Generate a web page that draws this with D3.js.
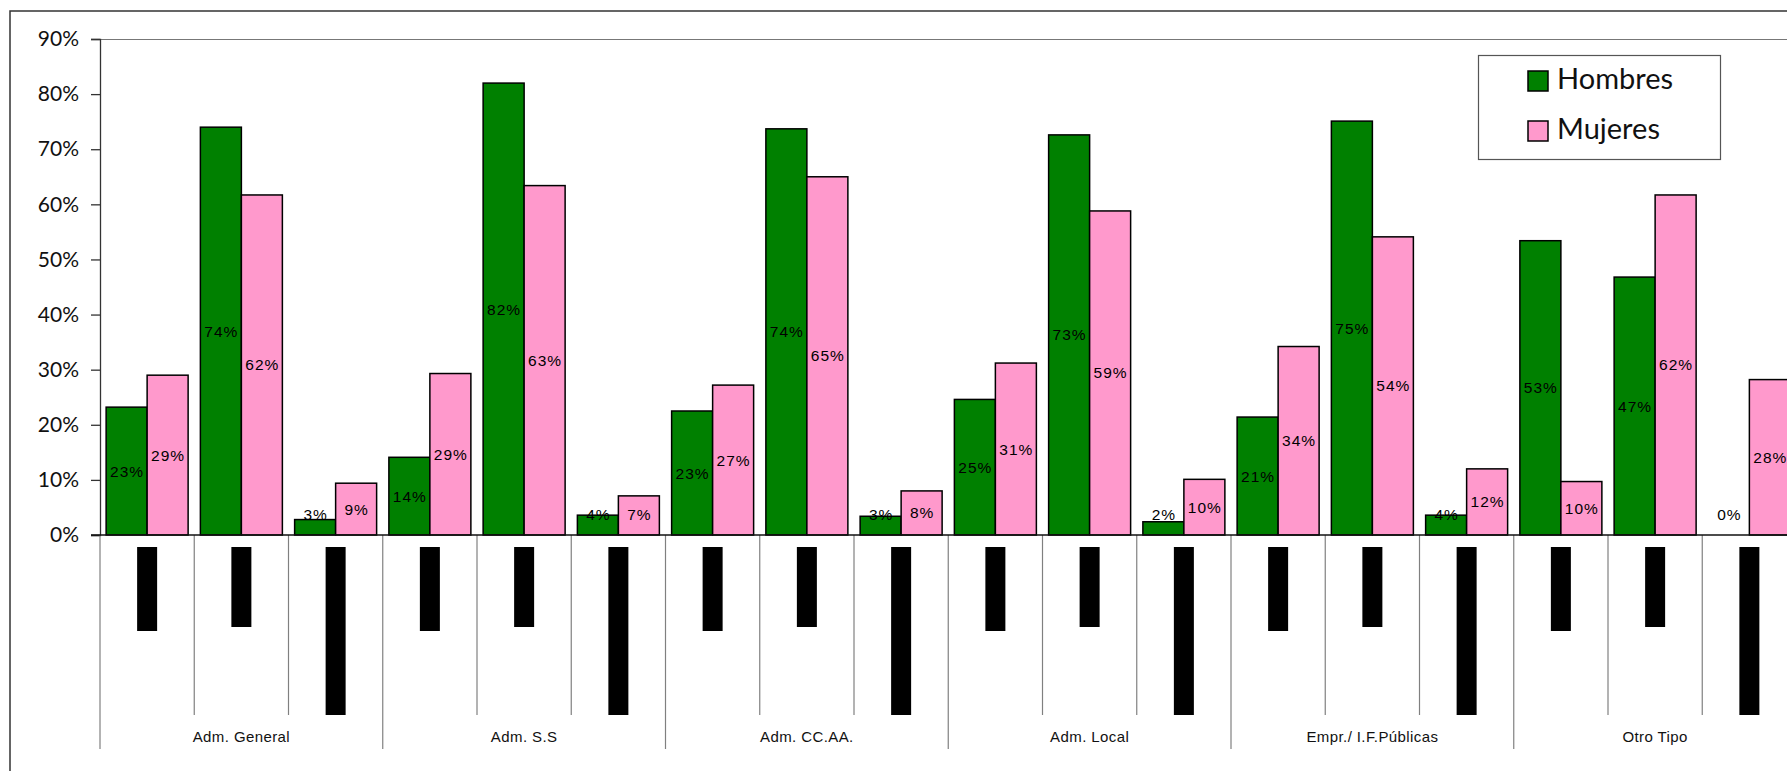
<!DOCTYPE html>
<html>
<head>
<meta charset="utf-8">
<script src="https://cdn.jsdelivr.net/npm/d3@7/dist/d3.min.js"></script>
<style>
  html, body { margin: 0; padding: 0; background: #fff; overflow: hidden; }
  svg { display: block; }
</style>
</head>
<body>
<script>
// ---------------- DATA ----------------
const categories = ["Adm. General", "Adm. S.S", "Adm. CC.AA.", "Adm. Local", "Empr./ I.F.Públicas", "Otro Tipo"];
const subPerCategory = 3;
const seriesNames = ["Hombres", "Mujeres"];
// values in %, one per sub-slot (6 categories x 3 sub-slots)
const hombres = [23.2, 74.0, 2.8, 14.1, 82.0, 3.6, 22.5, 73.7, 3.4, 24.6, 72.6, 2.4, 21.4, 75.1, 3.6, 53.4, 46.8, 0];
const mujeres = [29.0, 61.7, 9.4, 29.3, 63.4, 7.1, 27.2, 65.0, 8.0, 31.2, 58.8, 10.1, 34.2, 54.1, 12.0, 9.7, 61.7, 28.2];
const yTicks = [0, 10, 20, 30, 40, 50, 60, 70, 80, 90];

// ---------------- LAYOUT / STYLE ----------------
const W = 1787, H = 771;
const colors = { Hombres: "#008000", Mujeres: "#FF99CC" };
const plot = { left: 100, top: 39, bottom: 535, slot: 94.25 };
const blockLen = [84, 80, 168]; // length of the (unreadable) sub-category label blocks

const svg = d3.select("body").append("svg").attr("width", W).attr("height", H);

// outer frame
svg.append("rect").attr("x", 10).attr("y", 11).attr("width", W + 20).attr("height", H + 20)
  .attr("fill", "none").attr("stroke", "#333").attr("stroke-width", 1.5);

const nSlots = categories.length * subPerCategory;
const slotIdx = d3.range(nSlots);
const x0 = d3.scaleBand().domain(slotIdx).range([plot.left, plot.left + nSlots * plot.slot]).padding(0);
const x1 = d3.scaleBand().domain(seriesNames).range([0, x0.bandwidth()]).paddingInner(0).paddingOuter(0.1494);
const y = d3.scaleLinear().domain([0, 90]).range([plot.bottom, plot.top]);

// top border of plot area
svg.append("line").attr("x1", plot.left).attr("x2", W + 10).attr("y1", y(90) + 0.5).attr("y2", y(90) + 0.5)
  .attr("stroke", "#777").attr("stroke-width", 1.2);

// y axis
const yAxis = d3.axisLeft(y).tickValues(yTicks).tickFormat(d => d + "%").tickSize(9).tickPadding(12);
const gy = svg.append("g").attr("transform", `translate(${plot.left},0)`).call(yAxis);
gy.select(".domain").attr("stroke", "#333").attr("stroke-width", 1.3);
gy.selectAll(".tick line").attr("stroke", "#333").attr("stroke-width", 1.3);
gy.selectAll(".tick text").attr("font-family", "Lato, 'DejaVu Sans', sans-serif").attr("font-size", 21)
  .attr("fill", "#111");

// separators below zero line
const seps = svg.append("g");
d3.range(nSlots + 1).forEach(i => {
  const isGroup = i % subPerCategory === 0;
  const xx = i < nSlots ? x0(i) : x0(nSlots - 1) + x0.bandwidth();
  seps.append("line").attr("x1", xx).attr("x2", xx)
    .attr("y1", plot.bottom).attr("y2", isGroup ? 749 : 715)
    .attr("stroke", "#808080").attr("stroke-width", 1.2);
});

// sub-category label blocks (rendered as black boxes in the reference)
svg.append("g").selectAll("rect").data(slotIdx).join("rect")
  .attr("x", d => x0(d) + x0.bandwidth() / 2 - 10)
  .attr("y", 547)
  .attr("width", 20)
  .attr("height", d => blockLen[d % subPerCategory])
  .attr("fill", "#000");

// category labels
svg.append("g").selectAll("text").data(categories).join("text")
  .attr("x", (d, i) => x0(i * subPerCategory) + x0.bandwidth() * subPerCategory / 2)
  .attr("y", 742)
  .attr("text-anchor", "middle")
  .attr("font-family", "'Liberation Sans', Arial, sans-serif")
  .attr("font-size", 15).attr("letter-spacing", 0.4)
  .attr("fill", "#111")
  .text(d => d);

// bars
const rows = [];
slotIdx.forEach(i => {
  rows.push({ slot: i, s: "Hombres", v: hombres[i] });
  rows.push({ slot: i, s: "Mujeres", v: mujeres[i] });
});
const bars = svg.append("g");
bars.selectAll("rect").data(rows.filter(d => d.v > 0)).join("rect")
  .attr("x", d => x0(d.slot) + x1(d.s))
  .attr("y", d => y(d.v))
  .attr("width", x1.bandwidth())
  .attr("height", d => y(0) - y(d.v))
  .attr("fill", d => colors[d.s])
  .attr("stroke", "#000").attr("stroke-width", 1.5);

// zero line
svg.append("line").attr("x1", plot.left - 9).attr("x2", W + 10).attr("y1", y(0)).attr("y2", y(0))
  .attr("stroke", "#111").attr("stroke-width", 1.5);

// data labels
svg.append("g").selectAll("text").data(rows).join("text")
  .attr("x", d => x0(d.slot) + x1(d.s) + x1.bandwidth() / 2 + 0.5)
  .attr("y", d => Math.min((y(d.v) + y(0)) / 2, y(0) - 21))
  .attr("dominant-baseline", "central")
  .attr("text-anchor", "middle")
  .attr("font-family", "'Liberation Sans', Arial, sans-serif")
  .attr("font-size", 15.5).attr("letter-spacing", 1)
  .attr("fill", "#000")
  .text(d => Math.round(d.v) + "%");

// legend
const lg = svg.append("g");
lg.append("rect").attr("x", 1478.5).attr("y", 55.5).attr("width", 242).attr("height", 104)
  .attr("fill", "#fff").attr("stroke", "#555").attr("stroke-width", 1.2);
seriesNames.forEach((s, i) => {
  const yy = 71 + i * 50;
  lg.append("rect").attr("x", 1528).attr("y", yy).attr("width", 20).attr("height", 20)
    .attr("fill", colors[s]).attr("stroke", "#000").attr("stroke-width", 1.5);
  lg.append("text").attr("x", 1557).attr("y", yy + 17.5)
    .attr("font-family", "Lato, 'DejaVu Sans', sans-serif").attr("font-size", 29)
    .attr("fill", "#111").text(s);
});
</script>
</body>
</html>
